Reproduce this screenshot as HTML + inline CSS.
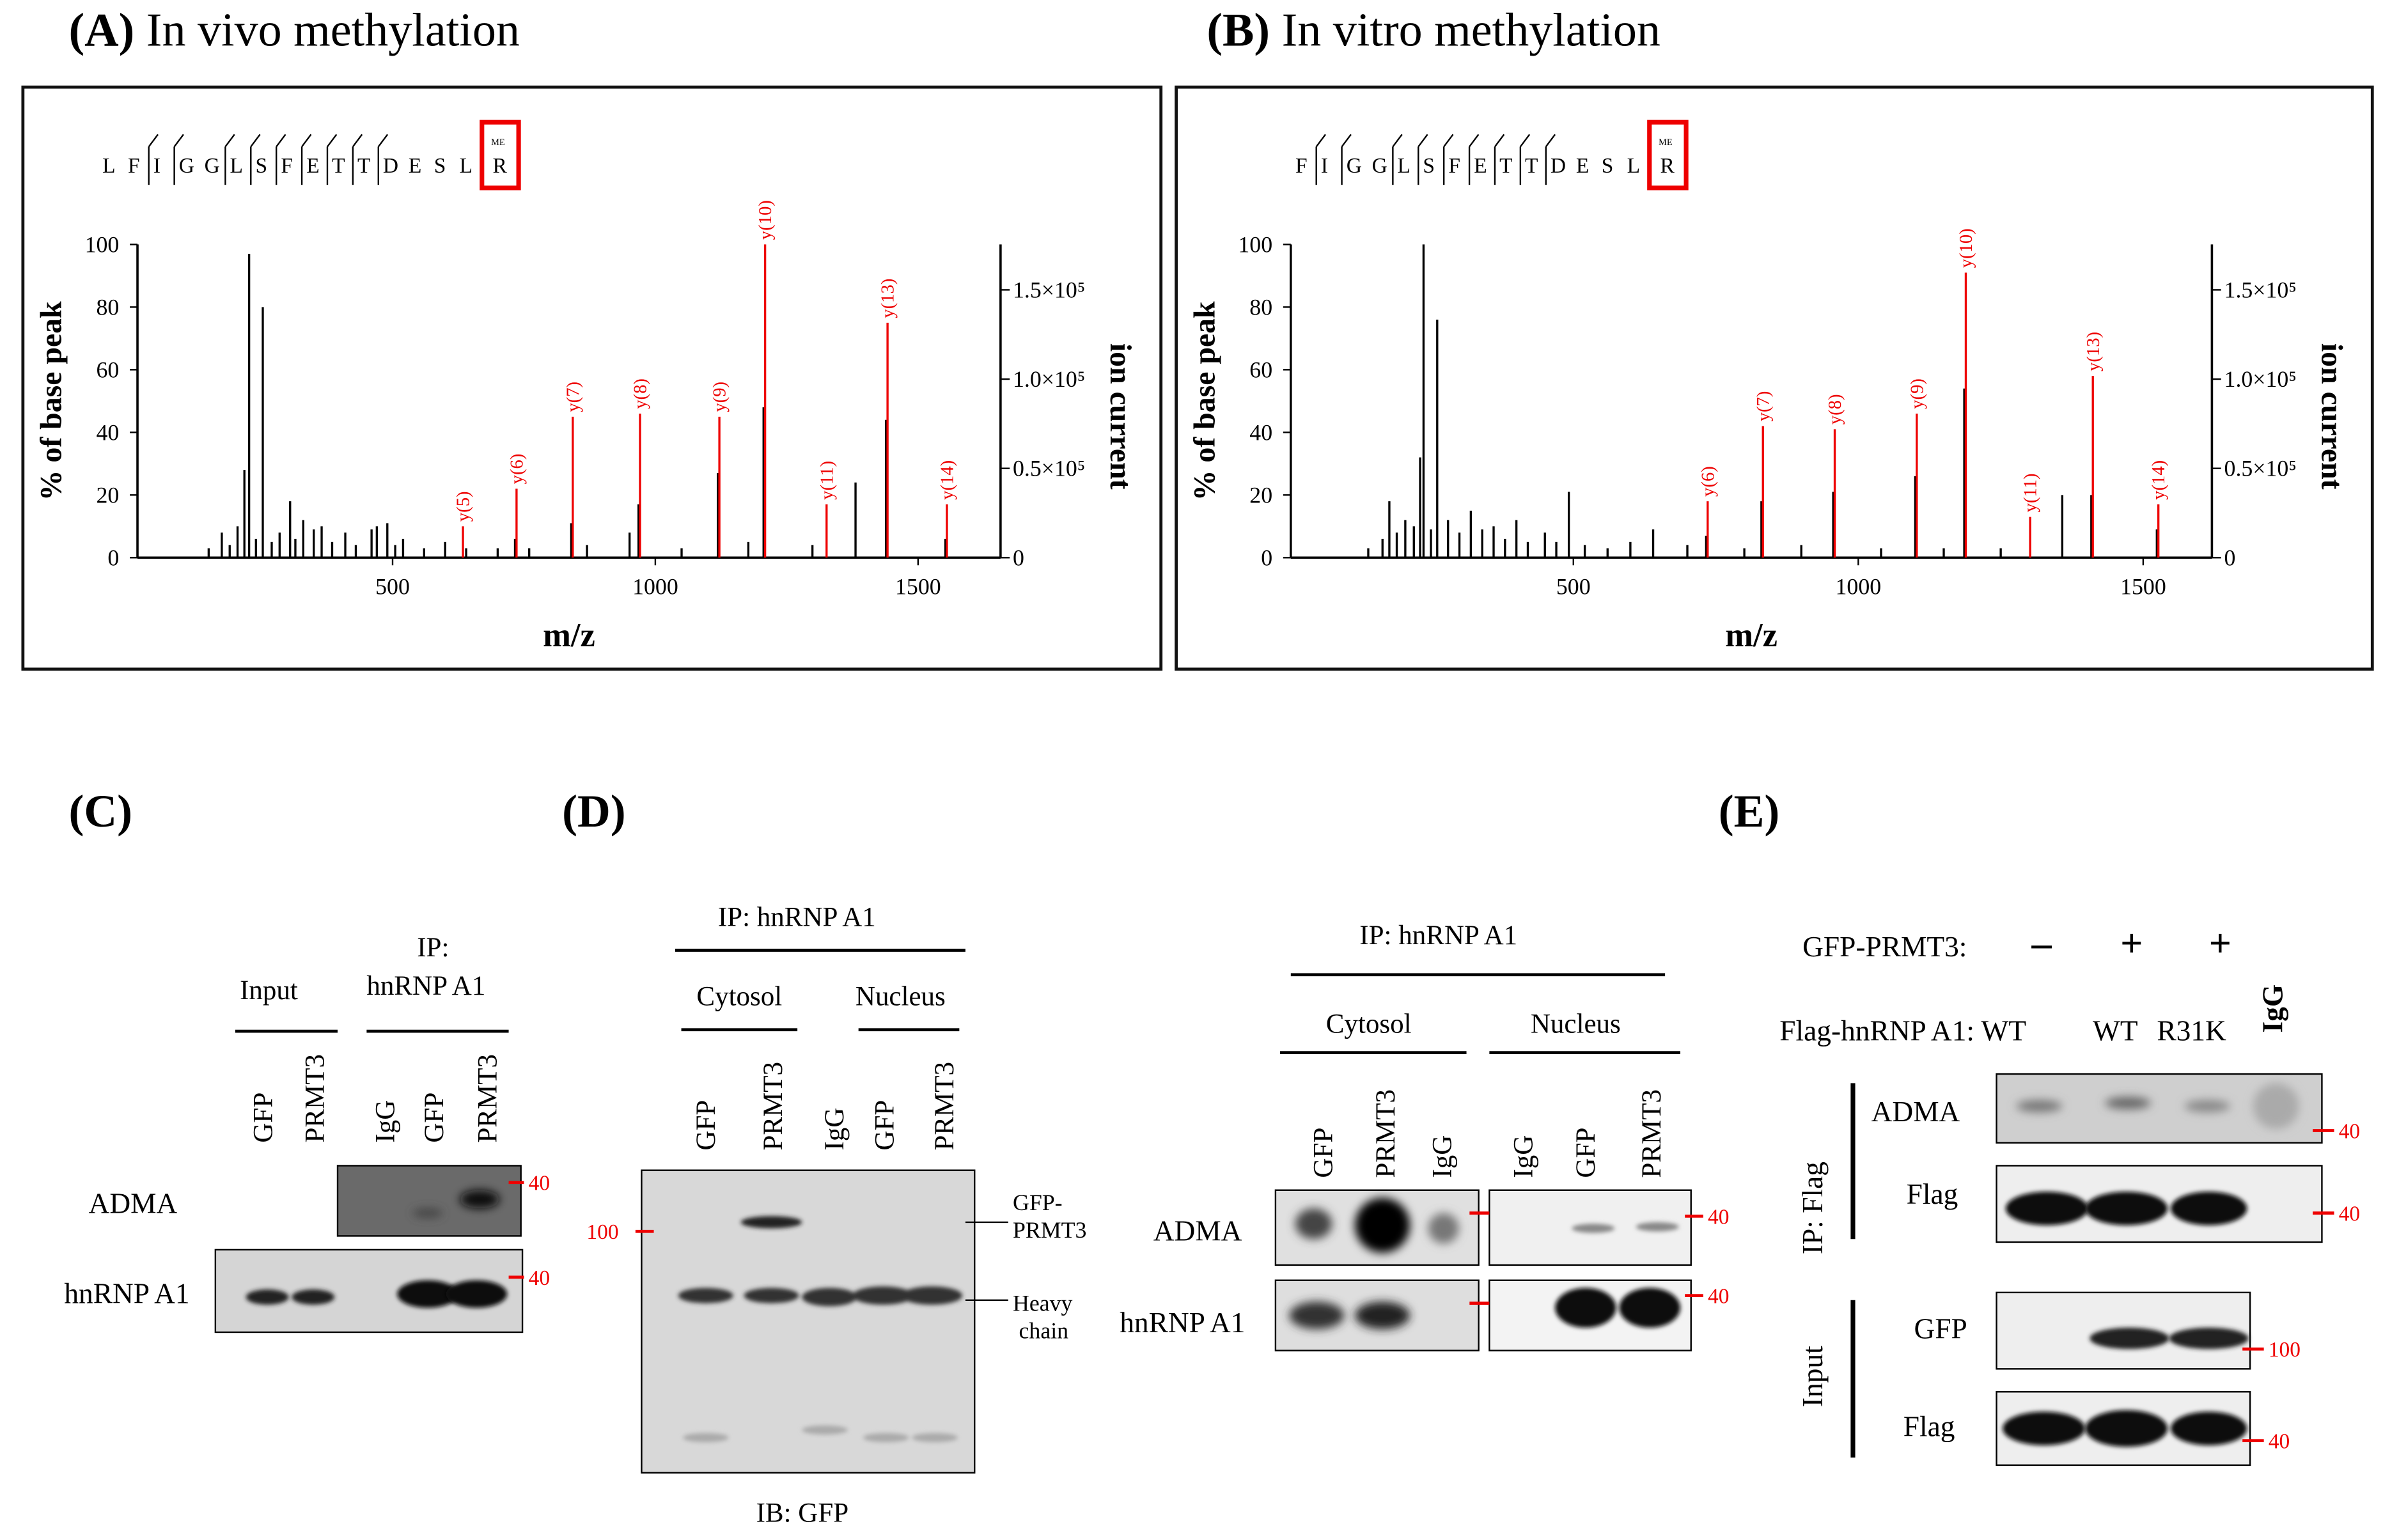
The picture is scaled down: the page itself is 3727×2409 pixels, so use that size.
<!DOCTYPE html>
<html><head><meta charset="utf-8"><style>
html,body{margin:0;padding:0;background:#fff}
svg{display:block}
text{font-family:"Liberation Serif",serif}
</style></head><body>
<svg id="fig" width="3727" height="2409" viewBox="0 0 1560 1008" preserveAspectRatio="none" xmlns="http://www.w3.org/2000/svg">
<defs>
<filter id="bl" x="-50%" y="-100%" width="200%" height="300%"><feGaussianBlur stdDeviation="3"/></filter>
<filter id="bl2" x="-50%" y="-100%" width="200%" height="300%"><feGaussianBlur stdDeviation="1.5"/></filter>
</defs>
<text x="45" y="30" font-size="31"><tspan font-weight="bold">(A)</tspan> In vivo methylation</text>
<text x="790" y="30" font-size="31"><tspan font-weight="bold">(B)</tspan> In vitro methylation</text>
<rect x="15" y="57" width="745" height="381" fill="none" stroke="#111" stroke-width="2"/>
<rect x="770" y="57" width="783" height="381" fill="none" stroke="#111" stroke-width="2"/>
<g id="chartA"></g>
<g id="chartB"></g>

<g transform="translate(0,-4)">
<text x="45" y="545" font-size="30" font-weight="bold">(C)</text>
<text x="368" y="545" font-size="30" font-weight="bold">(D)</text>
<text x="1125" y="545" font-size="30" font-weight="bold">(E)</text>
<g font-size="18">
<text x="157" y="658">Input</text>
<text x="273" y="630">IP:</text>
<text x="240" y="655">hnRNP A1</text>
<line x1="154" y1="679" x2="221" y2="679" stroke="#000" stroke-width="2"/>
<line x1="240" y1="679" x2="333" y2="679" stroke="#000" stroke-width="2"/>
<g transform="rotate(-90)"><text x="-752" y="178">GFP</text><text x="-752" y="212">PRMT3</text><text x="-752" y="258">IgG</text><text x="-752" y="290">GFP</text><text x="-752" y="325">PRMT3</text></g>
<text x="58" y="798" font-size="19">ADMA</text>
<text x="42" y="857" font-size="19">hnRNP A1</text>
<rect x="221" y="767" width="120" height="46" fill="#6a6a6a" stroke="#000"/>
<ellipse cx="280" cy="798" rx="10" ry="3" fill="#444" filter="url(#bl)"/>
<ellipse cx="314" cy="789" rx="13" ry="6" fill="#111" filter="url(#bl)"/>
<rect x="141" y="822" width="201" height="54" fill="#d5d5d5" stroke="#000"/>
<ellipse cx="175" cy="853" rx="14" ry="5" fill="#222" filter="url(#bl2)"/>
<ellipse cx="205" cy="853" rx="14" ry="5" fill="#222" filter="url(#bl2)"/>
<ellipse cx="280" cy="851" rx="20" ry="9" fill="#0a0a0a" filter="url(#bl2)"/>
<ellipse cx="312" cy="851" rx="20" ry="9" fill="#0a0a0a" filter="url(#bl2)"/>
<g fill="#e00" font-size="14"><line x1="333" y1="778" x2="343" y2="778" stroke="#e00" stroke-width="2"/><text x="346" y="783">40</text><line x1="333" y1="840" x2="343" y2="840" stroke="#e00" stroke-width="2"/><text x="346" y="845">40</text></g>
</g>

<g font-size="18">
<text x="470" y="610">IP: hnRNP A1</text>
<line x1="442" y1="626" x2="632" y2="626" stroke="#000" stroke-width="2"/>
<text x="456" y="662">Cytosol</text><text x="560" y="662">Nucleus</text>
<line x1="446" y1="678" x2="522" y2="678" stroke="#000" stroke-width="2"/>
<line x1="562" y1="678" x2="628" y2="678" stroke="#000" stroke-width="2"/>
<g transform="rotate(-90)"><text x="-757" y="468">GFP</text><text x="-757" y="512">PRMT3</text><text x="-757" y="552">IgG</text><text x="-757" y="585">GFP</text><text x="-757" y="624">PRMT3</text></g>
<rect x="420" y="770" width="218" height="198" fill="#d8d8d8" stroke="#000"/>
<ellipse cx="505" cy="804" rx="20" ry="4" fill="#222" filter="url(#bl2)"/>
<g fill="#333" filter="url(#bl2)"><ellipse cx="462" cy="852" rx="18" ry="5"/><ellipse cx="505" cy="852" rx="18" ry="5"/><ellipse cx="543" cy="853" rx="18" ry="6"/><ellipse cx="578" cy="852" rx="20" ry="6"/><ellipse cx="610" cy="852" rx="20" ry="6"/></g>
<g fill="#aaa" filter="url(#bl2)"><ellipse cx="462" cy="945" rx="15" ry="3"/><ellipse cx="540" cy="940" rx="15" ry="3"/><ellipse cx="580" cy="945" rx="15" ry="3"/><ellipse cx="612" cy="945" rx="15" ry="3"/></g>
<text x="384" y="815" font-size="14" fill="#e00">100</text><line x1="416" y1="810" x2="428" y2="810" stroke="#e00" stroke-width="2"/>
<text x="663" y="796" font-size="15">GFP-</text><text x="663" y="814" font-size="15">PRMT3</text>
<line x1="632" y1="804" x2="660" y2="804" stroke="#000"/>
<text x="663" y="862" font-size="15">Heavy</text><text x="667" y="880" font-size="15">chain</text>
<line x1="632" y1="855" x2="660" y2="855" stroke="#000"/>
<text x="495" y="1000" font-size="18">IB: GFP</text>
</g>

<g font-size="18">
<text x="890" y="622">IP: hnRNP A1</text>
<line x1="845" y1="642" x2="1090" y2="642" stroke="#000" stroke-width="2"/>
<text x="868" y="680">Cytosol</text><text x="1002" y="680">Nucleus</text>
<line x1="838" y1="693" x2="960" y2="693" stroke="#000" stroke-width="2"/>
<line x1="975" y1="693" x2="1100" y2="693" stroke="#000" stroke-width="2"/>
<g transform="rotate(-90)"><text x="-775" y="872">GFP</text><text x="-775" y="913">PRMT3</text><text x="-775" y="950">IgG</text><text x="-775" y="1003">IgG</text><text x="-775" y="1044">GFP</text><text x="-775" y="1087">PRMT3</text></g>
<text x="755" y="816" font-size="19">ADMA</text>
<text x="733" y="876" font-size="19">hnRNP A1</text>
<rect x="835" y="783" width="133" height="49" fill="#e0e0e0" stroke="#000"/>
<ellipse cx="860" cy="805" rx="12" ry="10" fill="#444" filter="url(#bl)"/>
<ellipse cx="905" cy="806" rx="18" ry="18" fill="#000" filter="url(#bl)"/>
<ellipse cx="945" cy="808" rx="10" ry="10" fill="#777" filter="url(#bl)"/>
<rect x="975" y="783" width="132" height="49" fill="#f0f0f0" stroke="#000"/>
<ellipse cx="1043" cy="808" rx="14" ry="3" fill="#888" filter="url(#bl2)"/>
<ellipse cx="1085" cy="807" rx="14" ry="3" fill="#888" filter="url(#bl2)"/>
<rect x="835" y="842" width="133" height="46" fill="#dedede" stroke="#000"/>
<ellipse cx="862" cy="865" rx="18" ry="9" fill="#333" filter="url(#bl)"/>
<ellipse cx="905" cy="865" rx="18" ry="9" fill="#222" filter="url(#bl)"/>
<rect x="975" y="842" width="132" height="46" fill="#f3f3f3" stroke="#000"/>
<ellipse cx="1038" cy="860" rx="20" ry="13" fill="#111" filter="url(#bl2)"/>
<ellipse cx="1080" cy="860" rx="20" ry="13" fill="#111" filter="url(#bl2)"/>
<g fill="#e00" font-size="14" stroke-width="2"><line x1="962" y1="798" x2="975" y2="798" stroke="#e00"/><line x1="1103" y1="800" x2="1115" y2="800" stroke="#e00"/><text x="1118" y="805">40</text><line x1="962" y1="857" x2="975" y2="857" stroke="#e00"/><line x1="1103" y1="852" x2="1115" y2="852" stroke="#e00"/><text x="1118" y="857">40</text></g>
</g>

<g font-size="19">
<text x="1180" y="630">GFP-PRMT3:</text>
<text x="1330" y="630" font-size="26" font-weight="bold">–</text><text x="1388" y="630" font-size="26" font-weight="bold">+</text><text x="1446" y="630" font-size="26" font-weight="bold">+</text>
<text x="1165" y="685">Flag-hnRNP A1: WT</text><text x="1370" y="685">WT</text><text x="1412" y="685">R31K</text>
<g transform="rotate(-90)"><text x="-680" y="1494" font-weight="bold">IgG</text><text x="-825" y="1193">IP: Flag</text><text x="-925" y="1193">Input</text></g>
<line x1="1213" y1="713" x2="1213" y2="815" stroke="#000" stroke-width="3"/>
<line x1="1213" y1="855" x2="1213" y2="958" stroke="#000" stroke-width="3"/>
<text x="1225" y="738">ADMA</text><text x="1248" y="792">Flag</text><text x="1253" y="880">GFP</text><text x="1246" y="944">Flag</text>
<rect x="1307" y="707" width="213" height="45" fill="#cfcfcf" stroke="#000"/>
<ellipse cx="1335" cy="728" rx="15" ry="4" fill="#777" filter="url(#bl)"/><ellipse cx="1393" cy="726" rx="15" ry="4" fill="#666" filter="url(#bl)"/><ellipse cx="1445" cy="728" rx="15" ry="4" fill="#888" filter="url(#bl)"/><ellipse cx="1490" cy="728" rx="15" ry="15" fill="#aaa" filter="url(#bl)"/>
<rect x="1307" y="767" width="213" height="50" fill="#eee" stroke="#000"/>
<ellipse cx="1340" cy="795" rx="27" ry="11" fill="#080808" filter="url(#bl2)"/><ellipse cx="1392" cy="795" rx="27" ry="11" fill="#080808" filter="url(#bl2)"/><ellipse cx="1446" cy="795" rx="25" ry="11" fill="#080808" filter="url(#bl2)"/>
<rect x="1307" y="850" width="166" height="50" fill="#eee" stroke="#000"/>
<ellipse cx="1394" cy="880" rx="26" ry="7" fill="#222" filter="url(#bl2)"/><ellipse cx="1446" cy="880" rx="26" ry="7" fill="#222" filter="url(#bl2)"/>
<rect x="1307" y="915" width="166" height="48" fill="#eee" stroke="#000"/>
<ellipse cx="1338" cy="939" rx="27" ry="11" fill="#080808" filter="url(#bl2)"/><ellipse cx="1392" cy="939" rx="27" ry="12" fill="#080808" filter="url(#bl2)"/><ellipse cx="1446" cy="939" rx="25" ry="11" fill="#111" filter="url(#bl2)"/>
<g fill="#e00" font-size="14" stroke-width="2"><line x1="1514" y1="744" x2="1528" y2="744" stroke="#e00"/><text x="1531" y="749">40</text><line x1="1514" y1="798" x2="1528" y2="798" stroke="#e00"/><text x="1531" y="803">40</text><line x1="1468" y1="887" x2="1482" y2="887" stroke="#e00"/><text x="1485" y="892">100</text><line x1="1468" y1="947" x2="1482" y2="947" stroke="#e00"/><text x="1485" y="952">40</text></g>
</g>
</g>
</svg>
<script>
const mzA_black=[150,175,190,205,218,227,240,253,270,285,305,315,330,350,365,385,410,430,460,470,490,505,520,560,600,640,700,733,760,840,870,951,968,1050,1119,1177,1206,1299,1381,1439,1552];
const intA_black=[3,8,4,10,28,97,6,80,5,8,18,6,12,9,10,5,8,4,9,10,11,4,6,3,5,3,3,6,3,11,4,8,17,3,27,5,48,4,24,44,6];
const mzA_red=[631,733,840,968,1119,1206,1323,1439,1552];
const intA_red=[10,22,45,46,45,100,17,75,17];
const labA=["y(5)","y(6)","y(7)","y(8)","y(9)","y(10)","y(11)","y(13)","y(14)"];
const mzB_black=[140,165,177,190,205,220,231,237,250,261,280,300,320,340,360,380,400,420,450,470,492,520,560,600,640,700,733,800,830,900,956,1040,1100,1150,1186,1250,1358,1409,1524];
const intB_black=[3,6,18,8,12,10,32,100,9,76,12,8,15,9,10,6,12,5,8,5,21,4,3,5,9,4,7,3,18,4,21,3,26,3,54,3,20,20,9];
const mzB_red=[733,830,956,1100,1186,1299,1409,1524];
const intB_red=[18,42,41,46,91,13,58,17];
const labB=["y(6)","y(7)","y(8)","y(9)","y(10)","y(11)","y(13)","y(14)"];
const seqA=["L","F","I","G","G","L","S","F","E","T","T","D","E","S","L"];
const seqB=["F","I","G","G","L","S","F","E","T","T","D","E","S","L"];
const yTicks=[0,20,40,60,80,100];
const xTicks=[500,1000,1500];
const rTicks=["0","0.5×10⁵","1.0×10⁵","1.5×10⁵"];

const NS="http://www.w3.org/2000/svg";
function mk(parent,tag,attrs,txt){const e=document.createElementNS(NS,tag);for(const k in attrs)e.setAttribute(k,attrs[k]);if(txt!==undefined)e.textContent=txt;parent.appendChild(e);return e;}

function draw(g,cfg){
  const {x0,x1,y0,y1,mz500,scale,mzb,ib,mzr,ir,labs,seq,seqX,seqStep}=cfg;
  const X=m=>mz500+(m-500)*scale;
  const Y=v=>y0-v*(y0-y1)/100;
  mk(g,'line',{x1:x0,y1:y0,x2:x1,y2:y0,stroke:'#000','stroke-width':1.5});
  mk(g,'line',{x1:x0,y1:y1,x2:x0,y2:y0,stroke:'#000','stroke-width':1.5});
  mk(g,'line',{x1:x1,y1:y1,x2:x1,y2:y0,stroke:'#000','stroke-width':1.5});
  yTicks.forEach(t=>{mk(g,'line',{x1:x0-5,y1:Y(t),x2:x0,y2:Y(t),stroke:'#000'});
    const e=mk(g,'text',{x:x0-12,y:Y(t)+5,'font-size':15,'text-anchor':'end'},String(t));
    });
  xTicks.forEach(t=>{mk(g,'line',{x1:X(t),y1:y0,x2:X(t),y2:y0+5,stroke:'#000'});
    const e=mk(g,'text',{x:X(t),y:y0+24,'font-size':15,'text-anchor':'middle'},String(t));
    });
  rTicks.forEach((t,i)=>{const yy=y0-i*0.285*(y0-y1);mk(g,'line',{x1:x1,y1:yy,x2:x1+6,y2:yy,stroke:'#000'});
    const e=mk(g,'text',{x:x1+8,y:yy+5,'font-size':15},t);
    });
  const xt=mk(g,'text',{x:(x0+x1)/2,y:y0+58,'font-size':22,'font-weight':'bold','text-anchor':'middle'},'m/z');
  
  const yt=mk(g,'text',{x:0,y:0,'font-size':20,'font-weight':'bold','text-anchor':'middle',transform:`translate(${x0-50},${(y0+y1)/2}) rotate(-90)`},'% of base peak');
  
  const rt=mk(g,'text',{x:0,y:0,'font-size':20,'font-weight':'bold','text-anchor':'middle',transform:`translate(${x1+72},${(y0+y1)/2+10}) rotate(90)`},'ion current');
  
  mzb.forEach((m,i)=>{const l=mk(g,'line',{x1:X(m),y1:y0,x2:X(m),y2:Y(ib[i]),stroke:'#000','stroke-width':1.4});
    });
  mzr.forEach((m,i)=>{const l=mk(g,'line',{x1:X(m)+1,y1:y0,x2:X(m)+1,y2:Y(ir[i]),stroke:'#e00','stroke-width':1.4});
    
    const t=mk(g,'text',{x:0,y:0,'font-size':12,fill:'#e00',transform:`translate(${X(m)+5},${Y(ir[i])-3}) rotate(-90)`},labs[i]);
    });
  seq.forEach((s,i)=>{const t=mk(g,'text',{x:seqX+i*seqStep,y:113,'font-size':14},s);
    });
  const rx=seqX+seq.length*seqStep-2;
  const b=mk(g,'rect',{x:rx,y:80,width:24,height:43,fill:'none',stroke:'#e00','stroke-width':3});
  
  mk(g,'text',{x:rx+7,y:113,'font-size':14},'R');
  mk(g,'text',{x:rx+6,y:95,'font-size':6},'ME');
  for(let k=0;k<9;k++){const px=seqX+(cfg.cut0+k+(k>1?1:0))*seqStep-3;
    mk(g,'line',{x1:px,y1:121,x2:px,y2:96,stroke:'#000'});
    mk(g,'line',{x1:px,y1:96,x2:px+6,y2:88,stroke:'#000'});}
}
draw(document.getElementById('chartA'),{x0:90,x1:655,y0:365,y1:160,mz500:257,scale:0.344,mzb:mzA_black,ib:intA_black,mzr:mzA_red,ir:intA_red,labs:labA,seq:seqA,seqX:67,seqStep:16.7,cut0:2});
draw(document.getElementById('chartB'),{x0:845,x1:1448,y0:365,y1:160,mz500:1030,scale:0.373,mzb:mzB_black,ib:intB_black,mzr:mzB_red,ir:intB_red,labs:labB,seq:seqB,seqX:848,seqStep:16.7,cut0:1});
</script>
</body></html>
